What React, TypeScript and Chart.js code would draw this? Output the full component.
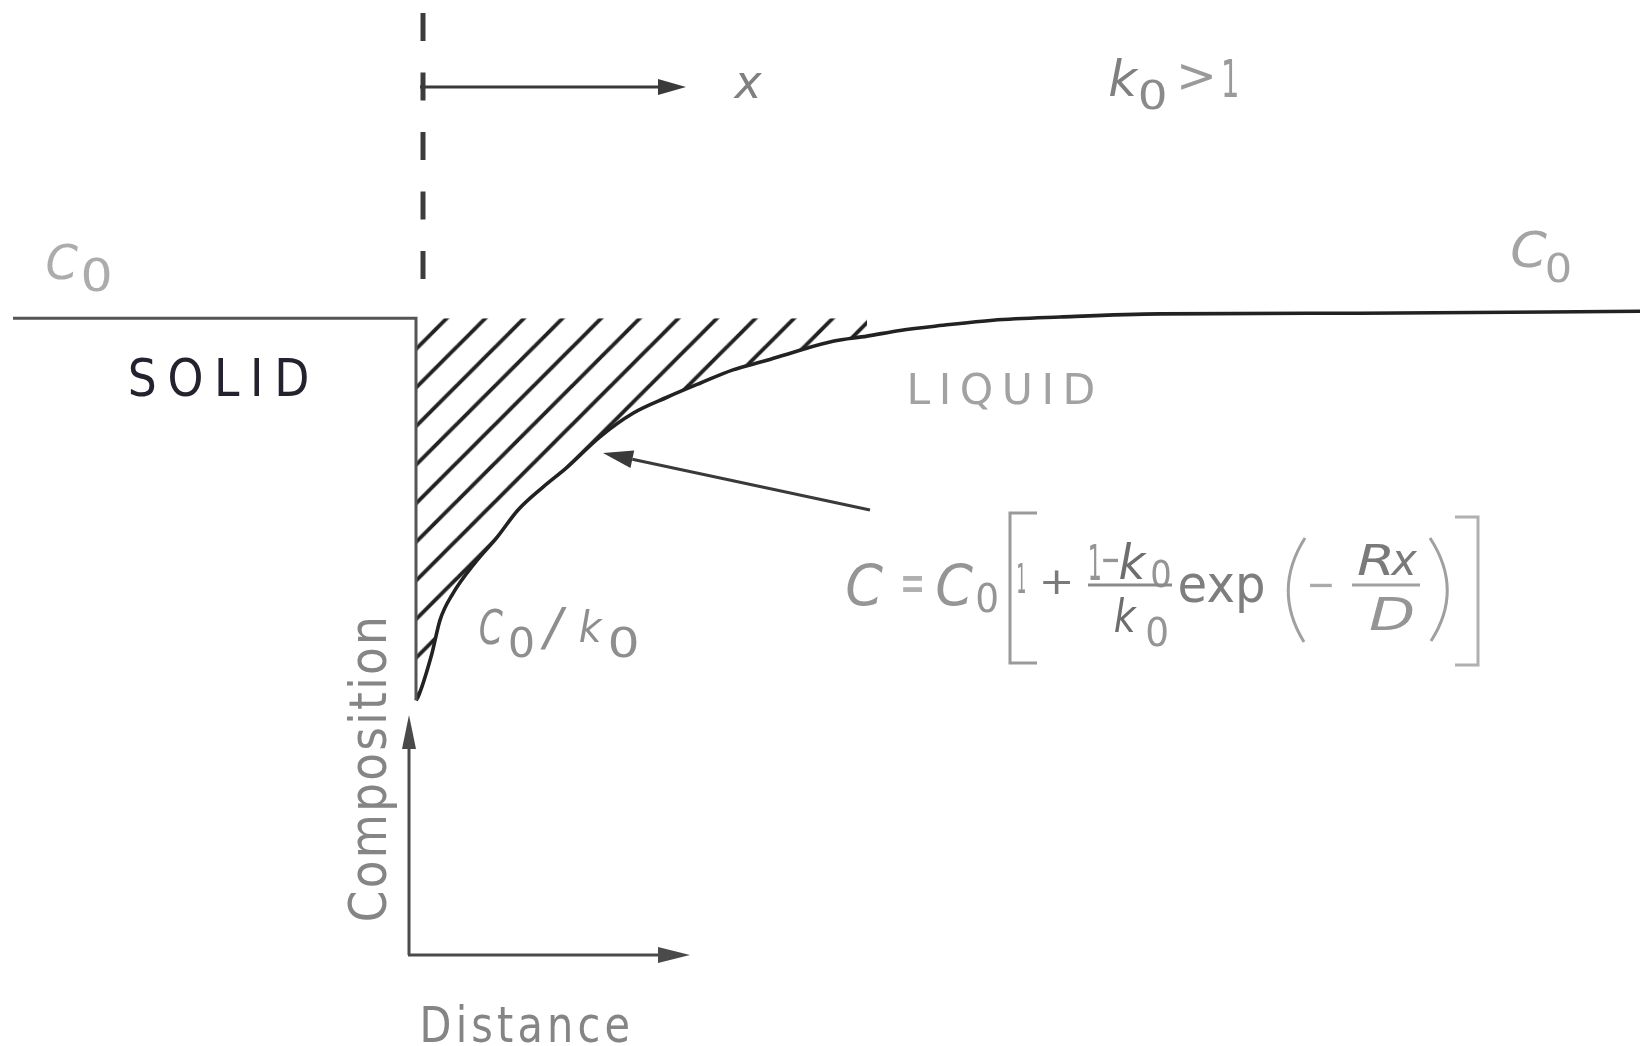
import { useEffect, useRef } from "react";
import { Chart, registerables } from "chart.js";

Chart.register(...registerables);

// Composition profile across the solid/liquid interface (distance in arbitrary units,
// interface at 0; composition relative to the bulk value C0 = 1, k0 = 2.5 so C0/k0 = 0.4)
const solidDistance = [-4.03, 0, 0];
const solidComposition = [1, 1, 0.4];

const liquidDistance = [
  0, 0.02, 0.16, 0.24, 0.37, 0.59, 0.81, 1.02, 1.27, 1.51, 1.84, 2.17, 2.51,
  2.84, 3.17, 3.51, 3.84, 4.17, 4.51, 4.84, 5.27, 5.77, 6.44, 7.44, 9.44, 12.24,
];
const liquidComposition = [
  0.4, 0.405, 0.474, 0.526, 0.568, 0.616, 0.656, 0.699, 0.735, 0.766, 0.814,
  0.851, 0.876, 0.898, 0.919, 0.934, 0.95, 0.964, 0.972, 0.981, 0.989, 0.997,
  1.002, 1.007, 1.008, 1.011,
];

// the hatched (solute-depleted) zone is shaded out to this many profile points
const hatchedPoints = 19;

const bulkComposition = 1;
const distanceRange = [-4.16, 12.27];
const compositionRange = [-0.143, 1.5];

const FONT = '"DejaVu Sans", sans-serif';
const GREY = "#8e8e8e";

type Box = [number, number, number, number];

// Draws a string so that its ink fills the given box (optionally rotated to read upward)
function fitText(
  ctx: CanvasRenderingContext2D,
  s: string,
  box: Box,
  color: string,
  italic = false,
  spacing = 0,
  rotate = false,
  weight = 400
) {
  const [x0, y0, x1, y1] = box;
  ctx.save();
  ctx.font = `${italic ? "italic " : ""}${weight} 60px ${FONT}`;
  (ctx as any).letterSpacing = `${spacing}px`;
  ctx.fillStyle = color;
  ctx.textAlign = "left";
  ctx.textBaseline = "alphabetic";
  const m = ctx.measureText(s);
  const w = m.actualBoundingBoxLeft + m.actualBoundingBoxRight;
  const h = m.actualBoundingBoxAscent + m.actualBoundingBoxDescent;
  if (rotate) {
    ctx.translate(x0, y1);
    ctx.rotate(-Math.PI / 2);
    ctx.scale((y1 - y0) / w, (x1 - x0) / h);
  } else {
    ctx.translate(x0, y0);
    ctx.scale((x1 - x0) / w, (y1 - y0) / h);
  }
  ctx.fillText(s, m.actualBoundingBoxLeft, m.actualBoundingBoxAscent);
  ctx.restore();
}

function line(ctx: CanvasRenderingContext2D, pts: number[][], color: string, width: number) {
  ctx.save();
  ctx.strokeStyle = color;
  ctx.lineWidth = width;
  ctx.lineJoin = "miter";
  ctx.beginPath();
  pts.forEach(([x, y], i) => (i ? ctx.lineTo(x, y) : ctx.moveTo(x, y)));
  ctx.stroke();
  ctx.restore();
}

function arrow(
  ctx: CanvasRenderingContext2D,
  x1: number,
  y1: number,
  x2: number,
  y2: number,
  color: string,
  width = 3,
  head = 28,
  half = 8
) {
  const a = Math.atan2(y2 - y1, x2 - x1);
  const bx = x2 - head * Math.cos(a);
  const by = y2 - head * Math.sin(a);
  line(ctx, [[x1, y1], [bx, by]], color, width);
  ctx.save();
  ctx.fillStyle = color;
  ctx.beginPath();
  ctx.moveTo(x2, y2);
  ctx.lineTo(bx + half * Math.sin(a), by - half * Math.cos(a));
  ctx.lineTo(bx - half * Math.sin(a), by + half * Math.cos(a));
  ctx.closePath();
  ctx.fill();
  ctx.restore();
}

function hatchPattern(ctx: CanvasRenderingContext2D) {
  const tile = document.createElement("canvas");
  tile.width = 40;
  tile.height = 40;
  const t = tile.getContext("2d")!;
  t.strokeStyle = "#222222";
  t.lineWidth = 4;
  for (const c of [0, 40, 80]) {
    t.beginPath();
    t.moveTo(c + 10, -10);
    t.lineTo(-10, c + 10);
    t.stroke();
  }
  const p = ctx.createPattern(tile, "repeat")!;
  p.setTransform(new DOMMatrix().translate(31.6, 0).scale(0.965));
  return p;
}

const annotations = {
  id: "diagramAnnotations",
  beforeDraw(chart: Chart) {
    const { ctx, width, height } = chart;
    ctx.save();
    ctx.fillStyle = "#ffffff";
    ctx.fillRect(0, 0, width, height);
    ctx.restore();
  },
  afterDatasetsDraw(chart: Chart) {
    const ctx = chart.ctx;
    const ix = chart.scales.x.getPixelForValue(0);

    // dashed reference line above the interface and the x direction arrow
    ctx.save();
    ctx.strokeStyle = "#3c3c3c";
    ctx.lineWidth = 5;
    ctx.setLineDash([28, 31.5]);
    ctx.beginPath();
    ctx.moveTo(ix + 7, 13);
    ctx.lineTo(ix + 7, 282);
    ctx.stroke();
    ctx.restore();
    arrow(ctx, ix + 4, 87, ix + 270, 87, "#3a3a3a", 3, 28, 8);
    fitText(ctx, "x", [733, 72, 762, 98], "#808080", true);

    // k0 > 1
    fitText(ctx, "k", [1110, 58, 1139, 97], "#808080", true);
    fitText(ctx, "0", [1140, 80, 1165, 110], "#8a8a8a");
    fitText(ctx, ">", [1181, 63, 1212, 90], "#9a9a9a");
    fitText(ctx, "1", [1224, 58, 1237, 97], "#9a9a9a");

    // bulk composition labels
    fitText(ctx, "C", [47, 243, 78, 280], "#acacac", true);
    fitText(ctx, "0", [83, 258, 110, 292], "#acacac");
    fitText(ctx, "C", [1512, 230, 1547, 268], "#a4a4a4", true);
    fitText(ctx, "0", [1547, 253, 1570, 283], "#a4a4a4");

    // phase labels
    fitText(ctx, "SOLID", [130, 358, 307, 397], "#24222f", false, 14);
    fitText(ctx, "LIQUID", [910, 372, 1093, 410], "#a2a2a2", false, 12);

    // interface composition
    fitText(ctx, "C", [480, 608, 503, 645], GREY, true);
    fitText(ctx, "0", [510, 627, 533, 658], GREY);
    fitText(ctx, "/", [540, 607, 567, 650], GREY, true);
    fitText(ctx, "k", [580, 610, 603, 643], GREY, true);
    fitText(ctx, "0", [610, 627, 637, 658], GREY);

    // pointer from the equation to the liquid profile
    arrow(ctx, 870, 510, 603, 453, "#3a3a3a", 3, 30, 9);

    // equation of the liquid profile
    const F = "#959595";
    fitText(ctx, "C", [847, 563, 883, 607], F, true);
    fitText(ctx, "=", [903, 577, 922, 593], "#b0b0b0");
    fitText(ctx, "C", [937, 563, 973, 607], F, true);
    fitText(ctx, "0", [977, 583, 997, 613], F);
    line(ctx, [[1037, 513], [1010, 513], [1010, 663], [1037, 663]], "#9a9a9a", 3);
    fitText(ctx, "1", [1018, 563, 1025, 593], F);
    fitText(ctx, "+", [1043, 570, 1070, 594], "#7a7a7a");
    fitText(ctx, "1", [1090, 543, 1100, 580], F);
    fitText(ctx, "\u2212", [1103, 558, 1118, 562], F);
    fitText(ctx, "k", [1120, 543, 1147, 580], "#6e6e6e", true);
    fitText(ctx, "0", [1152, 560, 1170, 588], F);
    line(ctx, [[1088, 585], [1172, 585]], "#8a8a8a", 3);
    fitText(ctx, "k", [1115, 597, 1137, 633], "#6e6e6e", true);
    fitText(ctx, "0", [1147, 617, 1167, 647], F);
    fitText(ctx, "exp", [1180, 572, 1263, 613], "#7e7e7e");
    ctx.save();
    ctx.strokeStyle = "#a0a0a0";
    ctx.lineWidth = 3;
    ctx.beginPath();
    ctx.moveTo(1305, 538);
    ctx.quadraticCurveTo(1272, 590, 1304, 642);
    ctx.moveTo(1430, 538);
    ctx.quadraticCurveTo(1464, 590, 1431, 641);
    ctx.stroke();
    ctx.restore();
    fitText(ctx, "\u2212", [1310, 583, 1332, 587], "#aaaaaa");
    fitText(ctx, "R", [1358, 543, 1390, 575], "#7a7a7a", true);
    fitText(ctx, "x", [1390, 550, 1417, 575], "#7a7a7a", true);
    line(ctx, [[1352, 585], [1420, 585]], "#a0a0a0", 3);
    fitText(ctx, "D", [1370, 597, 1413, 630], F, true);
    line(ctx, [[1455, 517], [1478, 517], [1478, 665], [1455, 665]], "#b0b0b0", 3);

    // composition / distance key axes
    arrow(ctx, 409, 955, 409, 715, "#4a4a4a", 3, 34, 7);
    arrow(ctx, 408, 955, 690, 955, "#4a4a4a", 3, 32, 8);
    fitText(ctx, "Composition", [347, 620, 397, 920], "#858585", false, 3, true);
    fitText(ctx, "Distance", [423, 1004, 628, 1043], "#858585", false, 6);
  },
};

export default function App() {
  const ref = useRef<HTMLCanvasElement | null>(null);

  useEffect(() => {
    const canvas = ref.current;
    if (!canvas) return;
    const ctx = canvas.getContext("2d")!;
    const hatch = hatchPattern(ctx);
    const liquidPoints = liquidDistance.map((x, i) => ({ x, y: liquidComposition[i] }));

    const chart = new Chart(canvas, {
      type: "line",
      data: {
        datasets: [
          {
            label: "Solid",
            data: solidDistance.map((x, i) => ({ x, y: solidComposition[i] })),
            borderColor: "#555555",
            borderWidth: 3,
            borderJoinStyle: "miter",
            pointRadius: 0,
            fill: false,
            tension: 0,
          },
          {
            label: "Liquid",
            data: liquidPoints,
            borderColor: "#222222",
            borderWidth: 3.6,
            pointRadius: 0,
            cubicInterpolationMode: "monotone",
            fill: false,
          },
          {
            label: "Depleted zone",
            data: liquidPoints.slice(0, hatchedPoints),
            borderWidth: 0,
            borderColor: "rgba(0,0,0,0)",
            pointRadius: 0,
            cubicInterpolationMode: "monotone",
            fill: {
              target: { value: bulkComposition },
              above: "rgba(0,0,0,0)",
              below: hatch as any,
            },
          },
        ],
      },
      options: {
        animation: false,
        responsive: true,
        maintainAspectRatio: false,
        events: [],
        layout: { padding: 0 },
        plugins: {
          legend: { display: false },
          tooltip: { enabled: false },
        },
        scales: {
          x: { type: "linear", min: distanceRange[0], max: distanceRange[1], display: false },
          y: { type: "linear", min: compositionRange[0], max: compositionRange[1], display: false },
        },
      },
      plugins: [annotations as any],
    });

    return () => chart.destroy();
  }, []);

  return (
    <div
      style={{
        position: "fixed",
        left: 0,
        top: 0,
        width: 1643,
        height: 1046,
        background: "#ffffff",
      }}
    >
      <canvas ref={ref} />
    </div>
  );
}
